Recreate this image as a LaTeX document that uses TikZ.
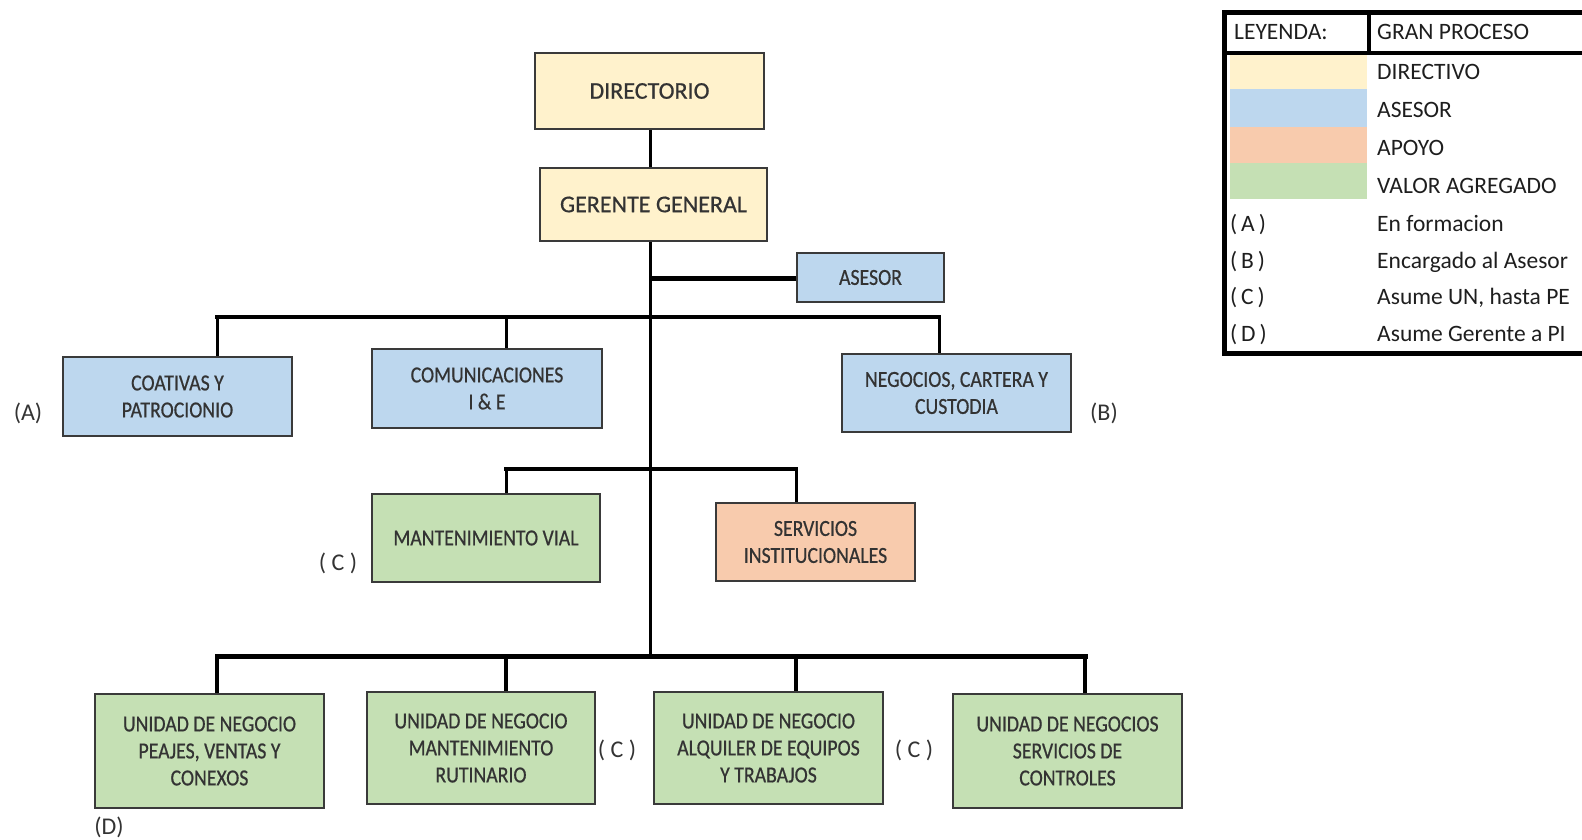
\documentclass[tikz,border=0pt]{standalone}
\usepackage{fontspec}
\setmainfont{Carlito}
\newfontfamily\condfont[FakeStretch=0.86,FakeBold=0.6]{Carlito}
\newfontfamily\topfont[FakeBold=0.6]{Carlito}
\definecolor{dirfill}{HTML}{FFF2CC}
\definecolor{asefill}{HTML}{BDD7EE}
\definecolor{apofill}{HTML}{F8CBAD}
\definecolor{valfill}{HTML}{C5E0B4}
\definecolor{boxline}{HTML}{3A3A3A}
\definecolor{txt}{HTML}{333333}
\definecolor{legtxt}{HTML}{1E1E1E}
\begin{document}
\begin{tikzpicture}[x=1pt,y=-1pt,
  wh/.style 2 args={minimum width=#1pt, minimum height=#2pt},
  orgbox/.style={draw=boxline, line width=2.5pt, inner sep=0pt, align=center, text=txt,
    font=\condfont\fontsize{23}{27}\selectfont},
  topbox/.style={orgbox, font=\topfont\fontsize{24}{27}\selectfont},
  conn/.style={line width=3pt, black},
  bus/.style={line width=4pt, black, line cap=rect},
  thickbus/.style={line width=5pt, black, line cap=rect},
  note/.style={text=txt, inner sep=0pt, font=\fontsize{24}{27}\selectfont},
  legtext/.style={anchor=base west, inner sep=0pt, text=legtxt, font=\fontsize{23.5}{27}\selectfont},
]
\useasboundingbox (0,0) rectangle (1582,840);

% boxes
\node[topbox, fill=dirfill, wh={229}{76}] (dir) at (649.5,91) {DIRECTORIO};
\node[topbox, fill=dirfill, wh={227}{73}] (ger) at (653.5,204.5) {GERENTE GENERAL};
\node[orgbox, fill=asefill, wh={147}{49}] (ase) at (870.5,277.5) {ASESOR};
\node[orgbox, fill=asefill, wh={229}{79}] (coa) at (177.5,396.5) {COATIVAS Y\\PATROCIONIO};
\node[orgbox, fill=asefill, wh={230}{79}] (com) at (487,388.5) {COMUNICACIONES\\I \& E};
\node[orgbox, fill=asefill, wh={229}{78}] (neg) at (956.5,393) {NEGOCIOS, CARTERA Y\\CUSTODIA};
\node[orgbox, fill=valfill, wh={228}{88}] (mv) at (486,538) {MANTENIMIENTO VIAL};
\node[orgbox, fill=apofill, wh={199}{78}] (si) at (815.5,542) {SERVICIOS\\INSTITUCIONALES};
\node[orgbox, fill=valfill, wh={229}{114}] (u1) at (209.5,751) {UNIDAD DE NEGOCIO\\PEAJES, VENTAS Y\\CONEXOS};
\node[orgbox, fill=valfill, wh={228}{112}] (u2) at (481,748) {UNIDAD DE NEGOCIO\\MANTENIMIENTO\\RUTINARIO};
\node[orgbox, fill=valfill, wh={229}{112}] (u3) at (768.5,748) {UNIDAD DE NEGOCIO\\ALQUILER DE EQUIPOS\\Y TRABAJOS};
\node[orgbox, fill=valfill, wh={229}{114}] (u4) at (1067.5,751) {UNIDAD DE NEGOCIOS\\SERVICIOS DE\\CONTROLES};

% side notes
\node[note] (na) at (28,413) {(A)};
\node[note] (nb) at (1104,413) {(B)};
\node[note] (nc1) at (338,563) {( C )};
\node[note] (nc2) at (617,750) {( C )};
\node[note] (nc3) at (914,750) {( C )};
\node[note] (nd) at (109,827) {(D)};

% connector coordinates
\coordinate (ta) at (650,278);
\coordinate (t1) at (650,317);
\coordinate (t3) at (650,656);
\coordinate (b1l) at (217,317);
\coordinate (b1m) at (506,317);
\coordinate (b1r) at (939,317);
\coordinate (b2l) at (506,469);
\coordinate (b2r) at (796,469);
\coordinate (b3a) at (217,656);
\coordinate (b3b) at (506,656);
\coordinate (b3c) at (796,656);
\coordinate (b3d) at (1085,656);

% connectors
\draw[conn] (dir.south -| t1) -- (ger.north -| t1);
\draw[conn] (ger.south -| t1) -- (t3);
\draw[line width=5pt] (ta) -- (ase.west |- ta);
\draw[bus] (b1l) -- (b1r);
\draw[conn] (b1l) -- (b1l |- coa.north);
\draw[conn] (b1m) -- (b1m |- com.north);
\draw[conn] (b1r) -- (b1r |- neg.north);
\draw[bus, line width=3.5pt] (b2l) -- (b2r);
\draw[conn] (b2l) -- (b2l |- mv.north);
\draw[conn] (b2r) -- (b2r |- si.north);
\draw[thickbus] (b3a) -- (b3d);
\draw[conn, line width=3.5pt] (b3a) -- (b3a |- u1.north);
\draw[conn, line width=3.5pt] (b3b) -- (b3b |- u2.north);
\draw[conn, line width=3.5pt] (b3c) -- (b3c |- u3.north);
\draw[conn, line width=3.5pt] (b3d) -- (b3d |- u4.north);

% legend
\begin{scope}
\clip (0,0) rectangle (1582,840);
\fill[dirfill] (1230,55) rectangle (1367,89);
\fill[asefill] (1230,89) rectangle (1367,127);
\fill[apofill] (1230,127) rectangle (1367,163);
\fill[valfill] (1230,163) rectangle (1367,199);
\draw[line width=5pt] (1224,13) rectangle (1610,353);
\draw[line width=4pt] (1224,53) -- (1610,53);
\draw[line width=4pt] (1369,13) -- (1369,53);
\end{scope}
\node[legtext] (lh1) at (1234,40) {LEYENDA:};
\node[legtext] (lh2) at (1377,40) {GRAN PROCESO};
\node[legtext] (l1) at (1377,80) {DIRECTIVO};
\node[legtext] (l2) at (1377,118) {ASESOR};
\node[legtext] (l3) at (1377,155) {APOYO};
\node[legtext] (l4) at (1377,193) {VALOR AGREGADO};
\node[legtext] (l5) at (1377,231) {En formacion};
\node[legtext] (l6) at (1377,268) {Encargado al Asesor};
\node[legtext] (l7) at (1377,304) {Asume UN, hasta PE};
\node[legtext] (l8) at (1377,341) {Asume Gerente a PI};
\node[legtext] (k5) at (1230,231) {(\,A\,)};
\node[legtext] (k6) at (1230,268) {(\,B\,)};
\node[legtext] (k7) at (1230,304) {(\,C\,)};
\node[legtext] (k8) at (1230,341) {(\,D\,)};
\end{tikzpicture}
\end{document}
